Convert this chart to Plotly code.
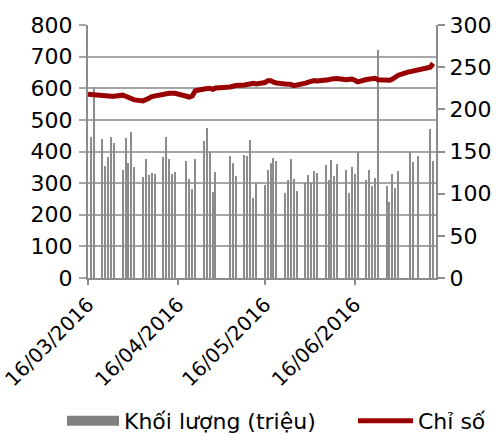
import plotly.graph_objects as go

dates = [
    "2016-03-16", "2016-03-17", "2016-03-18", "2016-03-21", "2016-03-22", "2016-03-23", "2016-03-24", "2016-03-25",
    "2016-03-28", "2016-03-29", "2016-03-30", "2016-03-31", "2016-04-01",
    "2016-04-04", "2016-04-05", "2016-04-06", "2016-04-07", "2016-04-08",
    "2016-04-11", "2016-04-12", "2016-04-13", "2016-04-14", "2016-04-15",
    "2016-04-19", "2016-04-20", "2016-04-21", "2016-04-22",
    "2016-04-25", "2016-04-26", "2016-04-27", "2016-04-28", "2016-04-29",
    "2016-05-04", "2016-05-05", "2016-05-06",
    "2016-05-09", "2016-05-10", "2016-05-11", "2016-05-12", "2016-05-13",
    "2016-05-16", "2016-05-17", "2016-05-18", "2016-05-19", "2016-05-20",
    "2016-05-23", "2016-05-24", "2016-05-25", "2016-05-26", "2016-05-27",
    "2016-05-30", "2016-05-31", "2016-06-01", "2016-06-02", "2016-06-03",
    "2016-06-06", "2016-06-07", "2016-06-08", "2016-06-09", "2016-06-10",
    "2016-06-13", "2016-06-14", "2016-06-15", "2016-06-16", "2016-06-17",
    "2016-06-20", "2016-06-21", "2016-06-22", "2016-06-23", "2016-06-24",
    "2016-06-27", "2016-06-28", "2016-06-29", "2016-06-30", "2016-07-01",
    "2016-07-04", "2016-07-05", "2016-07-06", "2016-07-07", "2016-07-08",
    "2016-07-11", "2016-07-12", "2016-07-13",
]

volume = [
    None, 447, 605, 440, 355, 384, 447, 426,
    341, 442, 363, 461, 352,
    320, 376, 326, 333, 329,
    384, 445, 375, 329, 334,
    371, 313, 281, 376,
    433, 473, 400, 273, 334,
    386, 363, 323,
    389, 387, 436, 252, 299,
    294, 341, 363, 378, 371,
    270, 310, 375, 312, 276,
    299, 326, 299, 339, 333,
    357, 310, 374, 323, 360,
    341, 270, 350, 329, 400,
    310, 341, 291, 315, 721,
    291, 240, 329, 286, 338,
    None, 400, 367, None, 387,
    None, 471, 370,
]

index_values = [
    217.8, 217.4, 217.0, 215.6, 215.1, 215.2, 215.4, 215.6,
    216.8, 215.5, 214.0, 212.5, 211.2,
    210.0, 211.0, 213.0, 215.2, 216.0,
    218.0, 219.0, 219.0, 219.0, 219.0,
    215.5, 214.4, 216.0, 222.0,
    224.0, 225.2, 225.0, 223.8, 225.2,
    226.5, 227.5, 228.3,
    228.8, 229.8, 230.8, 231.0, 230.2,
    231.8, 234.0, 234.0, 232.2, 231.2,
    230.0, 230.0, 229.6, 228.0, 228.5,
    231.0, 232.2, 233.2, 234.0, 233.6,
    234.0, 235.0, 236.0, 236.8, 236.5,
    235.0, 235.4, 236.0, 234.5, 232.6,
    235.4, 236.0, 236.4, 236.8, 235.0,
    234.0, 234.5, 236.0, 238.5, 240.5,
    243.8, 244.6, 245.5, 247.0, 247.8,
    248.7, 250.0, 254.5,
]

left_ticks = [0, 100, 200, 300, 400, 500, 600, 700, 800]
right_ticks = [0, 50, 100, 150, 200, 250, 300]

FONT = "DejaVu Sans"
GRID = "#a6a6a6"
AXIS = "#8c8c8c"
BAR = "#8c8c8c"
LINE = "#990000"
DAY_MS = 86400000

fig = go.Figure()
fig.add_trace(go.Bar(
    x=dates, y=volume, name="Khối lượng (triệu)",
    marker=dict(color=BAR, line=dict(width=0)),
    width=0.45 * DAY_MS,
    yaxis="y", showlegend=False, legendgroup="vol",
))
# legend proxy for the volume series (wide grey swatch, as in the original)
fig.add_trace(go.Scatter(
    x=[None], y=[None], name="Khối lượng (triệu)", mode="lines",
    line=dict(color="#808080", width=12),
    yaxis="y", showlegend=True, legendgroup="vol", hoverinfo="skip",
    legend="legend",
))
fig.add_trace(go.Scatter(
    x=dates, y=index_values, name="Chỉ số", mode="lines",
    line=dict(color=LINE, width=5),
    yaxis="y2", legend="legend2",
))

legend_common = dict(
    orientation="h", xref="container", yref="container",
    xanchor="left", yanchor="middle", y=0.03,
    font=dict(family=FONT, size=22, color="black"),
    bgcolor="rgba(0,0,0,0)", borderwidth=0,
)

fig.update_layout(
    width=502, height=434,
    margin=dict(l=88, r=66, t=25, b=156, autoexpand=False),
    paper_bgcolor="white", plot_bgcolor="white",
    font=dict(family=FONT, size=22, color="black"),
    showlegend=True,
    legend=dict(legend_common, x=62 / 502, itemwidth=52),
    legend2=dict(legend_common, x=353 / 502, itemwidth=55),
    xaxis=dict(
        type="date", automargin=False,
        range=["2016-03-16", "2016-07-14"],
        tick0="2016-03-16", dtick="M1", tickformat="%d/%m/%Y",
        tickangle=-45, tickfont=dict(family=FONT, size=20),
        ticks="outside", ticklen=5, tickcolor=AXIS, tickwidth=1.5,
        showline=True, linecolor=AXIS, linewidth=2,
        showgrid=False, zeroline=False,
    ),
    yaxis=dict(
        range=[0, 800], tickvals=left_ticks, automargin=False,
        ticks="outside", ticklen=7, tickcolor=GRID, tickwidth=1.5,
        showline=True, linecolor=AXIS, linewidth=2,
        showgrid=True, gridcolor=GRID, gridwidth=1.5,
        zeroline=False, tickfont=dict(family=FONT, size=22),
        ticklabelstandoff=2,
    ),
    yaxis2=dict(
        range=[0, 300], tickvals=right_ticks, automargin=False,
        overlaying="y", side="right",
        ticks="outside", ticklen=7, tickcolor=AXIS, tickwidth=1.5,
        showline=True, linecolor=AXIS, linewidth=2,
        showgrid=False, zeroline=False, tickfont=dict(family=FONT, size=22),
    ),
    bargap=0,
)

fig.write_html(
    "out.html",
    config={"displayModeBar": False},
    post_script="document.body.style.margin='0';document.body.style.overflow='hidden';",
)
